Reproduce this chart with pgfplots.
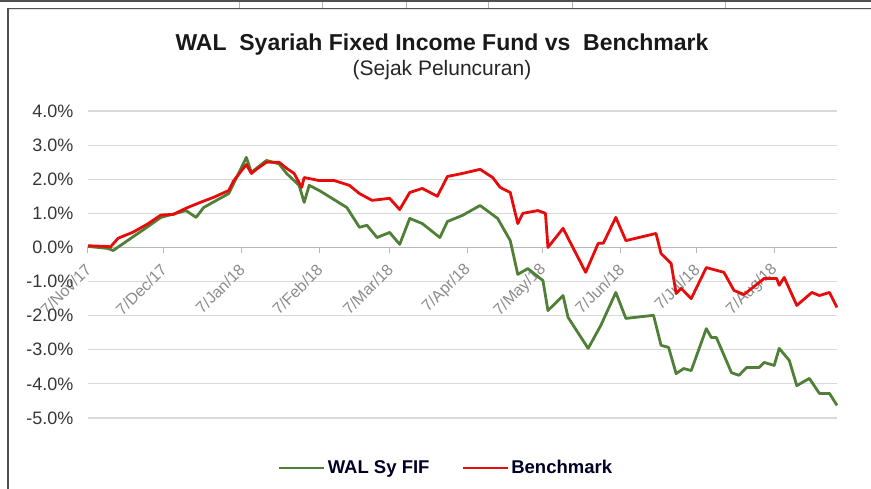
\documentclass[border=0pt]{standalone}
\usepackage{pgfplots}
\usepackage{pgfplotstable}
\pgfplotsset{compat=1.18}
\usepackage{fontspec}
\setmainfont{Liberation Sans}
\definecolor{wgreen}{RGB}{80,128,55}
\definecolor{bred}{RGB}{230,12,12}
\definecolor{gridc}{RGB}{217,217,217}
\definecolor{axc}{RGB}{185,185,185}
\definecolor{xlab}{RGB}{140,140,140}
\definecolor{ylab}{RGB}{55,55,55}
\definecolor{framec}{RGB}{80,80,80}

\pgfplotstableread{
day val
0 0.05
7 0.03
9 0.02
12 0.27
18 0.45
24 0.70
29 0.95
34 0.97
39 1.15
45 1.33
50 1.47
56 1.67
58 1.96
63 2.43
65 2.17
67 2.29
71 2.50
76 2.50
79 2.32
82 2.17
85 1.76
86 2.05
92 1.96
98 1.96
104 1.82
108 1.58
113 1.38
120 1.44
124 1.11
128 1.61
133 1.73
139 1.50
143 2.08
149 2.17
156 2.29
161 2.05
164 1.76
168 1.61
171 0.70
173 1.00
179 1.08
182 1.00
183 0.00
189 0.56
198 -0.73
203 0.12
205 0.12
210 0.88
214 0.20
226 0.41
228 -0.18
232 -0.47
234 -1.35
236 -1.20
240 -1.50
246 -0.59
253 -0.73
257 -1.26
261 -1.38
269 -0.91
274 -0.91
275 -1.11
277 -0.88
282 -1.70
288 -1.32
291 -1.41
295 -1.32
298 -1.76
}\redtab

\pgfplotstableread{
day val
0 0.03
8 -0.03
10 -0.09
24 0.62
29 0.88
39 1.08
43 0.88
46 1.17
56 1.58
58 1.88
63 2.64
65 2.20
71 2.55
76 2.45
79 2.17
84 1.82
86 1.32
88 1.82
92 1.67
103 1.17
108 0.59
111 0.65
115 0.29
120 0.44
124 0.09
128 0.85
133 0.70
140 0.29
143 0.76
149 0.94
156 1.23
163 0.85
168 0.20
171 -0.79
175 -0.62
181 -0.97
183 -1.85
189 -1.41
191 -2.05
199 -2.96
204 -2.29
210 -1.32
214 -2.08
225 -1.99
228 -2.87
231 -2.93
234 -3.70
237 -3.55
240 -3.61
246 -2.38
248 -2.64
250 -2.64
256 -3.67
259 -3.75
262 -3.52
267 -3.52
269 -3.37
273 -3.46
275 -2.96
279 -3.31
282 -4.05
287 -3.84
291 -4.28
295 -4.28
298 -4.63
}\greentab

\begin{document}
\begin{tikzpicture}
\useasboundingbox (0pt,0pt) rectangle (871pt,489pt);
\fill[white] (0pt,0pt) rectangle (871pt,489pt);
% frame
\draw[framec, line width=1.6pt] (0pt,487.8pt) -- (871pt,487.8pt);
\foreach \xx in {239,322,406,488,572,725}{
  \draw[gray!60, line width=0.8pt] (\xx pt,481pt) -- (\xx pt,487pt);
}
\draw[framec, line width=1.6pt] (871pt,480.5pt) -- (8pt,480.5pt) -- (8pt,0pt);
\draw[gray!20, line width=1pt] (9pt,479pt) -- (871pt,479pt);
% titles
\node[anchor=base, text=black!90, font=\bfseries\fontsize{23}{25}\selectfont] at (442pt,438pt) {WAL\ \ Syariah Fixed Income Fund vs\ \ Benchmark};
\node[anchor=base, text=black!85, font=\fontsize{21}{24}\selectfont] at (442pt,413pt) {(Sejak Peluncuran)};
\begin{axis}[
  at={(88pt,71pt)}, anchor=south west,
  scale only axis, width=749pt, height=307pt,
  xmin=0, xmax=298, ymin=-5, ymax=4,
  axis x line*=middle, axis y line*=left,
  hide obscured x ticks=false,
  x axis line style={axc, line width=1.2pt},
  y axis line style={draw=none},
  ytick={-5,-4,-3,-2,-1,0,1,2,3,4},
  yticklabels={-5.0\%,-4.0\%,-3.0\%,-2.0\%,-1.0\%,0.0\%,1.0\%,2.0\%,3.0\%,4.0\%},
  ytick style={draw=none},
  yticklabel style={font=\fontsize{18}{19}\selectfont, text=ylab, xshift=-11pt},
  ymajorgrids, grid style={gridc, line width=1.2pt},
  xtick={0,30,61,92,120,151,181,212,242,273},
  xticklabels={7/Nov/17,7/Dec/17,7/Jan/18,7/Feb/18,7/Mar/18,7/Apr/18,7/May/18,7/Jun/18,7/Jul/18,7/Aug/18},
  xtick align=outside, major tick length=6pt,
  xtick style={axc, line width=1pt},
  xticklabel style={xshift=3pt, yshift=-11pt, rotate=45, anchor=east, font=\fontsize{16}{17}\selectfont, text=xlab},
  legend style={at={(0.478,-0.163)}, anchor=center, draw=none, fill=none,
    legend columns=2, font=\bfseries\fontsize{18.5}{20}\selectfont, text=black!85!blue,
    /tikz/every even column/.append style={column sep=30pt}},
  legend image code/.code={\draw[#1] (0pt,0pt) -- (45pt,0pt);},
  clip=false,
]
\addplot[wgreen, line width=2.8pt, line join=round] table[x=day,y=val] {\greentab};
\addlegendentry{WAL Sy FIF}
\addplot[bred, line width=2.8pt, line join=round] table[x=day,y=val] {\redtab};
\addlegendentry{Benchmark}
\end{axis}
\end{tikzpicture}
\end{document}
